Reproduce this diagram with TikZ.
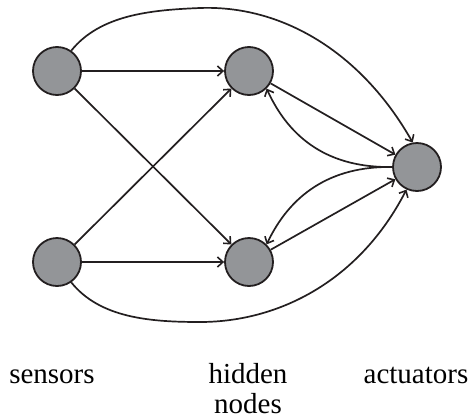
\documentclass[tikz,border=0pt]{standalone}
\usepackage{fontspec}
\setmainfont{Liberation Serif}
\usetikzlibrary{arrows.meta}
\definecolor{nodegrey}{HTML}{939598}
\definecolor{ink}{HTML}{231F20}
\tikzset{
  unit/.style={circle, draw=ink, fill=nodegrey, line width=1.8pt, minimum size=48pt, inner sep=0pt},
  link/.style={draw=ink, line width=1.7pt, -{Straight Barb[length=5.5pt,width=10pt,line width=1.6pt]}},
  caption/.style={anchor=base, inner sep=0pt, font=\fontsize{29}{30}\selectfont}
}
\begin{document}
\begin{tikzpicture}[x=1pt, y=-1pt]
\useasboundingbox (0,0) rectangle (471,418);
% units
\node[unit] (s1) at (57,71) {};
\node[unit] (s2) at (57,262) {};
\node[unit] (h1) at (249,71) {};
\node[unit] (h2) at (249,262) {};
\node[unit] (a)  at (417,167) {};
% sensors to hidden nodes
\draw[link] (s1) -- (h1);
\draw[link] (s1) -- (h2);
\draw[link] (s2) -- (h1);
\draw[link] (s2) -- (h2);
% hidden nodes to actuator
\draw[link] (h1) -- (a);
\draw[link] (h2) -- (a);
% feedback from actuator
\draw[link] (a.west) .. controls (330,168) and (290,140) .. (h1.-45);
\draw[link] (a.west) .. controls (330,166) and (290,195) .. (h2.45);
% direct sensor to actuator paths
\draw[link] (s1.55) .. controls (100,15) and (150,10) .. (200,8)
  .. controls (280,5) and (360,50) .. (a.100);
\draw[link] (s2.-55) .. controls (100,318) and (150,322) .. (200,322)
  .. controls (280,322) and (360,280) .. (a.-115);
% captions
\node[caption] (l1) at (52,383) {sensors};
\node[caption] (l2) at (248,383) {hidden};
\node[caption] (l3) at (248,413) {nodes};
\node[caption] (l4) at (416,383) {actuators};
\end{tikzpicture}
\end{document}
